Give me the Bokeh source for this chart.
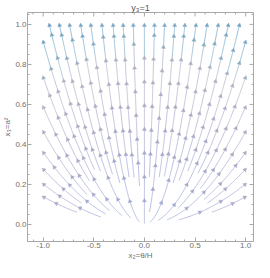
import numpy as np
from bokeh.plotting import figure
from bokeh.models import Range1d, FixedTicker, PrintfTickFormatter
from bokeh.embed import file_html
from bokeh.resources import INLINE

# ---- texts ----
title_text = "y\u2083=1"
x_label = "x\u2082=\u03b8/H"
y_label = "x\u2083=a\u00b2"

# ---- ticks ----
x_major_ticks = [-1.0, -0.5, 0.0, 0.5, 1.0]
x_minor_ticks = [-1.1, -0.9, -0.8, -0.7, -0.6, -0.4, -0.3, -0.2, -0.1,
                 0.1, 0.2, 0.3, 0.4, 0.6, 0.7, 0.8, 0.9, 1.1]
y_major_ticks = [0.0, 0.2, 0.4, 0.6, 0.8, 1.0]
y_minor_ticks = [-0.05, 0.05, 0.1, 0.15, 0.25, 0.3, 0.35, 0.45, 0.5, 0.55,
                 0.65, 0.7, 0.75, 0.85, 0.9, 0.95, 1.05]

# ---- vector field (x2' = a*x2, x3' = b*x3) and domain ----
field_a = 1.0
field_b = 2.0
domain_x = [-1.0, 1.0]
domain_y = [0.0, 1.0]
# where streamlines leave the top edge
top_seed_x = [0.0, -0.11, 0.10, -0.21, 0.20, -0.31, 0.30, -0.42, 0.40,
              -0.53, 0.51, -0.63, 0.62, -0.74, 0.73, -0.84, 0.83, -0.94, 0.94]
# lowest height at which a streamline leaves the side edges
side_exit_min_y = 0.09

# ---- screen scale (px per data unit) ----
PX = 103.5
PY = 202.0
D_SEP = 10.0
D_TEST = 5.0
ARROW_GAP = 24.0

XMIN, XMAX = domain_x[0] * PX, domain_x[1] * PX
YMIN, YMAX = domain_y[0] * PY, domain_y[1] * PY


def vel(X, Y):
    x = X / PX
    y = Y / PY
    return field_a * x * PX, field_b * y * PY


def speed(X, Y):
    x = X / PX
    y = Y / PY
    return np.hypot(field_a * x, field_b * y)


def direction(X, Y):
    u, v = vel(X, Y)
    n = np.hypot(u, v)
    if n < 1e-9:
        return None
    return u / n, v / n


grid = {}


def add_points(pts):
    for (X, Y) in pts:
        key = (int(np.floor(X / D_SEP)), int(np.floor(Y / D_SEP)))
        grid.setdefault(key, []).append((X, Y))


def near(X, Y, d):
    ci, cj = int(np.floor(X / D_SEP)), int(np.floor(Y / D_SEP))
    for i in range(ci - 1, ci + 2):
        for j in range(cj - 1, cj + 2):
            for (a, b) in grid.get((i, j), []):
                if (a - X) ** 2 + (b - Y) ** 2 < d * d:
                    return True
    return False


def inside(X, Y):
    return XMIN - 1e-6 <= X <= XMAX + 1e-6 and YMIN - 1e-6 <= Y <= YMAX + 1e-6


def integrate(X, Y, sgn, h=1.0, nmax=3000):
    pts = []
    for _ in range(nmax):
        if speed(X, Y) < 0.012:
            break
        k1 = direction(X, Y)
        if k1 is None:
            break
        mx, my = X + 0.5 * h * sgn * k1[0], Y + 0.5 * h * sgn * k1[1]
        k2 = direction(mx, my)
        if k2 is None:
            break
        nx, ny = X + h * sgn * k2[0], Y + h * sgn * k2[1]
        if not inside(nx, ny):
            break
        if near(nx, ny, D_TEST):
            break
        X, Y = nx, ny
        pts.append((X, Y))
    return pts


lines = []


def make_line(X, Y):
    if not inside(X, Y) or near(X, Y, D_SEP):
        return
    back = integrate(X, Y, -1.0)
    fwd = integrate(X, Y, 1.0)
    pts = back[::-1] + [(X, Y)] + fwd
    if len(pts) < 14:
        return
    lines.append(np.array(pts))
    add_points(pts)


# seeds: top edge, then the side edges (every streamline leaves through one)
for xs in top_seed_x:
    make_line(xs * PX, YMAX)
for Ys in np.arange(YMAX - 2, side_exit_min_y * PY, -1.0):
    make_line(XMIN, Ys)
    make_line(XMAX, Ys)

# ---- colour by speed ----
stops = [(0.0, (172, 184, 228)), (0.45, (184, 183, 216)), (0.74, (194, 193, 211)),
         (0.83, (146, 188, 214)), (1.0, (124, 176, 208))]
SMAX = np.hypot(field_a, field_b)


def color_for(sp):
    s = min(max(sp / SMAX, 0.0), 1.0)
    for (s0, c0), (s1, c1) in zip(stops[:-1], stops[1:]):
        if s <= s1:
            t = (s - s0) / (s1 - s0)
            c = [int(round(c0[k] + t * (c1[k] - c0[k]))) for k in range(3)]
            return "#%02x%02x%02x" % tuple(c)
    return "#%02x%02x%02x" % stops[-1][1]


def darker(hexcol, f=0.9):
    r, g, b = int(hexcol[1:3], 16), int(hexcol[3:5], 16), int(hexcol[5:7], 16)
    return "#%02x%02x%02x" % (int(r * f), int(g * f), int(b * f))


seg_xs, seg_ys, seg_col = [], [], []
ax_, ay_, aang, acol = [], [], [], []
for pts in lines:
    d = np.hypot(np.diff(pts[:, 0]), np.diff(pts[:, 1]))
    s = np.concatenate([[0.0], np.cumsum(d)])
    L = s[-1]
    # arrows at the end and at regular steps from the start of each line
    marks = [L]
    m = ARROW_GAP
    while m < L - 9.0:
        marks.append(m)
        m += ARROW_GAP
    marks = sorted(marks)
    bounds = [0.0] + marks
    for a, b in zip(bounds[:-1], bounds[1:]):
        sel = (s >= a) & (s <= b)
        seg = pts[sel]
        if len(seg) < 2:
            continue
        mid = seg[len(seg) // 2]
        col = color_for(speed(mid[0], mid[1]))
        seg_xs.append(seg[:, 0] / PX)
        seg_ys.append(seg[:, 1] / PY)
        seg_col.append(col)
    for mk in marks:
        i = int(np.searchsorted(s, mk - 1.5))
        i = min(max(i, 1), len(pts) - 1)
        X, Y = pts[i]
        dx, dy = pts[i][0] - pts[i - 1][0], pts[i][1] - pts[i - 1][1]
        ang = np.arctan2(dy, dx) - np.pi / 2
        ax_.append(X / PX)
        ay_.append(Y / PY)
        aang.append(ang)
        acol.append(darker(color_for(speed(X, Y)), 0.92))

# ---- figure ----
FRAME = "#a8a8a8"
LABEL = "#707070"
FONT = "Liberation Sans"

W, H = 254, 262
FRAME_LEFT, FRAME_RIGHT, FRAME_TOP, FRAME_BOTTOM = 30, 261, 17, 245  # page px
X_MINUS1_PX, Y_ZERO_PX = 46.0, 231.0

x0 = -1.0 - (X_MINUS1_PX - FRAME_LEFT) / PX
x1 = -1.0 + (FRAME_RIGHT - X_MINUS1_PX) / PX
y0 = -0.085
y1 = 1.0 + (29.0 - FRAME_TOP) / PY

p = figure(width=W, height=H, x_range=Range1d(x0, x1), y_range=Range1d(y0, y1),
           output_backend="svg", toolbar_location=None, title=title_text)
p.min_border_left = FRAME_LEFT - 8
p.min_border_right = 8 + W - FRAME_RIGHT
p.min_border_top = 0
p.min_border_bottom = 2
p.grid.visible = False
p.outline_line_color = FRAME
p.background_fill_color = "white"
p.title.text_font = FONT
p.title.text_font_size = "9px"
p.title.text_font_style = "normal"
p.title.text_color = "#555555"
p.title.align = "center"
p.title.standoff = 0

p.multi_line(xs=seg_xs, ys=seg_ys, line_color=seg_col, line_width=0.9)
p.scatter(x=ax_, y=ay_, marker="triangle", size=4, angle=aang,
          fill_color=acol, line_color=acol, line_width=0.4)


def style_axis(axis, ticks, minor):
    axis.ticker = FixedTicker(ticks=ticks, minor_ticks=minor)
    axis.formatter = PrintfTickFormatter(format="%.1f")
    axis.axis_line_color = FRAME
    axis.major_tick_line_color = FRAME
    axis.minor_tick_line_color = FRAME
    axis.major_tick_in = 4
    axis.major_tick_out = 0
    axis.minor_tick_in = 2
    axis.minor_tick_out = 0
    axis.major_label_text_font = FONT
    axis.major_label_text_font_size = "8px"
    axis.major_label_text_color = LABEL
    axis.axis_label_text_font = FONT
    axis.axis_label_text_font_size = "8px"
    axis.axis_label_text_font_style = "normal"
    axis.axis_label_text_color = LABEL
    axis.major_label_standoff = 1
    axis.axis_label_standoff = 0


style_axis(p.xaxis[0], x_major_ticks, x_minor_ticks)
style_axis(p.yaxis[0], y_major_ticks, y_minor_ticks)
p.xaxis[0].axis_label = x_label
p.yaxis[0].axis_label = y_label

# ticks on the top and right frame edges
top_x = x_major_ticks + x_minor_ticks
top_len = [4] * len(x_major_ticks) + [2] * len(x_minor_ticks)
p.ray(x=top_x, y=[y1] * len(top_x), length=top_len, length_units="screen",
      angle=-np.pi / 2, line_color=FRAME, line_width=1)
right_y = y_major_ticks + y_minor_ticks
right_len = [4] * len(y_major_ticks) + [2] * len(y_minor_ticks)
p.ray(x=[x1] * len(right_y), y=right_y, length=right_len, length_units="screen",
      angle=np.pi, line_color=FRAME, line_width=1)

open("out.html", "w").write(file_html(p, INLINE))
